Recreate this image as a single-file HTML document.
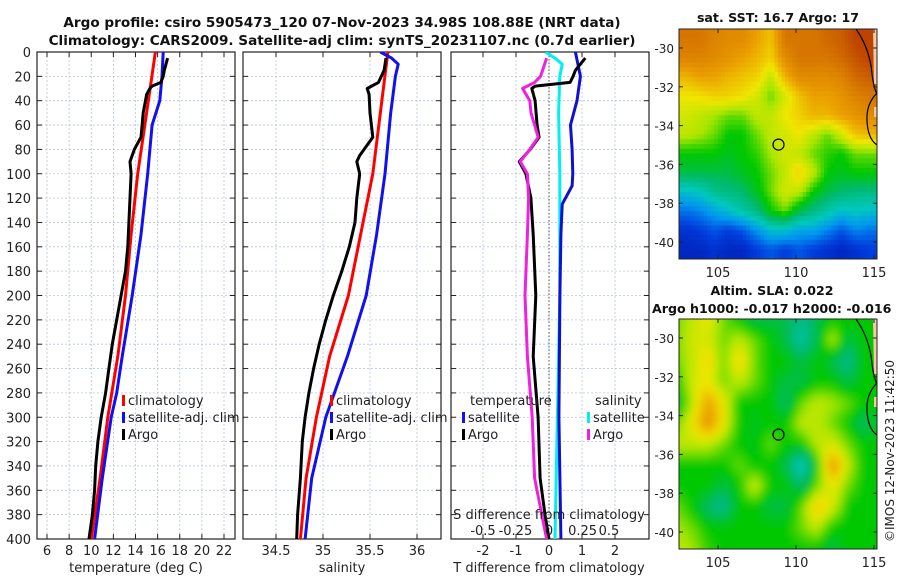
<!DOCTYPE html>
<html><head><meta charset="utf-8"><style>
body{margin:0;background:#fff;}
svg{display:block;font-family:"DejaVu Sans","Liberation Sans",sans-serif;}
</style></head><body>
<svg id="fig" width="900" height="580" xmlns="http://www.w3.org/2000/svg">
<defs>
<clipPath id="c1"><rect x="37" y="52" width="198" height="487"/></clipPath>
<clipPath id="c2"><rect x="243" y="52" width="198" height="487"/></clipPath>
<clipPath id="c3"><rect x="451" y="52" width="198" height="487"/></clipPath>
<clipPath id="cm1"><rect x="679" y="29" width="198" height="230"/></clipPath>
<clipPath id="cm2"><rect x="679" y="319" width="198" height="230"/></clipPath>
<filter id="blur" x="-5%" y="-5%" width="110%" height="110%"><feGaussianBlur stdDeviation="4"/></filter>
</defs>
<g font-size="13.6" font-weight="bold" text-anchor="middle" fill="#111">
<text x="342" y="27">Argo profile: csiro 5905473_120 07-Nov-2023 34.98S 108.88E (NRT data)</text>
<text x="342" y="45">Climatology: CARS2009. Satellite-adj clim: synTS_20231107.nc (0.7d earlier)</text>
</g>
<g font-size="12.6" font-weight="bold" text-anchor="middle" fill="#111">
<text x="778" y="22">sat. SST: 16.7 Argo: 17</text>
<text x="772" y="295">Altim. SLA: 0.022</text>
<text x="652" y="313" text-anchor="start">Argo h1000: -0.017 h2000: -0.016</text>
</g>
<text transform="translate(894,542) rotate(-90)" font-size="12" fill="#222">©IMOS 12-Nov-2023 11:42:50</text>
<g id="plots"></g>
</svg>
<script>
// ---- data ----
const depthArgoT=[5,15,20,25,28,30,35,50,70,80,90,100,120,140,160,180,200,220,240,260,280,300,320,340,360,380,400];
const tempArgo=[16.9,16.6,16.5,16.3,15.5,15.3,15.0,14.7,14.5,13.9,13.5,13.6,13.5,13.4,13.3,13.1,12.7,12.3,11.9,11.6,11.3,10.9,10.6,10.4,10.3,10.1,9.8];
const depthClim=[0,50,100,150,200,250,300,350,400];
const tempClim=[15.8,15.0,14.2,13.6,13.1,12.4,11.5,10.8,10.0];
const depthSatT=[0,20,40,60,100,150,200,250,280,300,350,400];
const tempSat=[16.5,16.4,16.2,15.5,15.1,14.5,13.7,12.8,12.3,11.8,11.0,10.3];
const depthArgoS=[5,15,25,30,35,50,70,85,90,100,120,140,160,180,200,220,240,260,280,300,320,350,380,400];
const salArgo=[35.67,35.65,35.59,35.47,35.49,35.5,35.53,35.39,35.36,35.39,35.36,35.34,35.28,35.2,35.11,35.03,34.96,34.9,34.85,34.81,34.78,34.76,34.73,34.72];
const salClimDepth=[0,100,150,200,250,300,350,400];
const salClim=[35.69,35.53,35.4,35.27,35.07,34.93,34.82,34.76];
const salSatDepth=[0,5,10,20,50,100,150,200,250,300,350,400];
const salSat=[35.61,35.73,35.8,35.77,35.72,35.66,35.57,35.46,35.26,35.03,34.88,34.81];
const dTArgoDepth=[5,15,20,25,28,30,40,60,70,80,90,100,120,150,200,250,300,350,380,400];
const dTArgo=[1.1,0.8,0.73,0.64,-0.42,-0.52,-0.42,-0.36,-0.3,-0.57,-0.9,-0.7,-0.55,-0.48,-0.4,-0.48,-0.33,-0.27,-0.12,0];
const dTSatDepth=[0,20,40,60,80,100,110,125,150,200,300,400];
const dTSat=[0.8,0.95,0.85,0.65,0.7,0.72,0.7,0.4,0.36,0.33,0.3,0.36];
const dSSatDepth=[0,5,10,20,50,100,200,300,400];
const dSSat=[-0.03,0.05,0.11,0.09,0.08,0.09,0.09,0.07,0.05];
const dSArgoDepth=[5,20,25,30,40,50,60,70,80,90,100,120,150,200,250,300,350,400];
const dSArgo=[-0.02,-0.07,-0.12,-0.22,-0.16,-0.15,-0.12,-0.09,-0.16,-0.24,-0.18,-0.17,-0.18,-0.2,-0.18,-0.14,-0.12,-0.02];
const depthTicks=[0,20,40,60,80,100,120,140,160,180,200,220,240,260,280,300,320,340,360,380,400];
const tTicks=[6,8,10,12,14,16,18,20,22];
const sTicks=[34.5,35,35.5,36];
const dTTicks=[-2,-1,0,1,2];
const dSTicks=[-0.5,-0.25,0,0.25,0.5];
const latTicks=[-30,-32,-34,-36,-38,-40];
const lonTicks=[105,110,115];
const argoLon=108.88, argoLat=-34.98;
const sstGrid=[
[.85,.85,.82,.8,.8,.75,.7,.85,.85,.85,.88,.9,.95,.95],
[.82,.82,.8,.78,.75,.72,.68,.8,.85,.85,.85,.88,.92,.95],
[.72,.75,.75,.72,.7,.68,.6,.72,.8,.8,.8,.82,.88,.9],
[.65,.66,.68,.68,.66,.62,.55,.62,.7,.75,.75,.78,.82,.85],
[.62,.6,.58,.55,.55,.6,.6,.65,.68,.72,.72,.75,.78,.8],
[.6,.58,.55,.5,.5,.55,.6,.62,.65,.6,.55,.62,.7,.72],
[.5,.5,.5,.48,.5,.52,.58,.62,.6,.55,.52,.5,.55,.55],
[.45,.45,.45,.45,.48,.5,.55,.6,.68,.6,.5,.48,.5,.5],
[.3,.32,.38,.4,.42,.48,.55,.62,.6,.5,.45,.42,.4,.4],
[.18,.2,.25,.3,.35,.4,.5,.55,.45,.4,.35,.3,.32,.3],
[.1,.12,.15,.12,.15,.22,.3,.3,.25,.25,.2,.15,.2,.18],
[.08,.08,.1,.08,.08,.12,.15,.12,.15,.12,.1,.08,.1,.12]];
const slaGrid=[
[.55,.6,.65,.55,.5,.45,.45,.45,.38,.45,.5,.5,.5,.5],
[.55,.62,.62,.55,.6,.55,.5,.45,.35,.45,.6,.45,.5,.5],
[.55,.6,.68,.55,.68,.55,.5,.5,.45,.5,.45,.38,.5,.5],
[.5,.62,.65,.55,.6,.55,.5,.45,.45,.5,.5,.45,.5,.5],
[.45,.6,.75,.65,.5,.5,.5,.42,.55,.6,.58,.55,.5,.5],
[.55,.65,.78,.65,.5,.48,.5,.5,.6,.6,.55,.5,.42,.5],
[.6,.6,.6,.55,.5,.48,.55,.5,.5,.6,.62,.55,.5,.5],
[.5,.5,.5,.5,.55,.5,.5,.45,.3,.5,.78,.6,.5,.5],
[.5,.5,.5,.45,.5,.62,.5,.5,.42,.55,.65,.55,.5,.5],
[.55,.5,.42,.38,.5,.5,.45,.45,.55,.7,.62,.5,.5,.5],
[.58,.55,.5,.5,.5,.5,.5,.5,.55,.6,.5,.5,.5,.5],
[.6,.58,.52,.5,.5,.5,.5,.5,.5,.5,.45,.5,.5,.5]];

const NS="http://www.w3.org/2000/svg";
const root=document.getElementById('plots');
function mk(tag,attrs,parent){const e=document.createElementNS(NS,tag);for(const k in attrs)e.setAttribute(k,attrs[k]);(parent||root).appendChild(e);return e;}
const Y0=52,Y1=539;
const yD=d=>Y0+(d/400)*(Y1-Y0);
function lin(d0,d1,r0,r1){return v=>r0+(v-d0)/(d1-d0)*(r1-r0);}
const xT=lin(6,22,47,224);
const xS=lin(34.5,36,276,417);
const xDT=lin(0,2,549,615);
const xDS=lin(0,0.5,549,609);

function panel(x0,xs,ticks,clip,name){
  const g=mk('g',{});
  
  
  for(const t of ticks){const x=xs(t);const l=mk('line',{x1:x,x2:x,y1:Y0,y2:Y1,stroke:'#b8c4e0','stroke-width':0.8,'stroke-dasharray':'2,2'},g);
    }
  for(const d of depthTicks){const y=yD(d);const l=mk('line',{x1:x0,x2:x0+198,y1:y,y2:y,stroke:'#b8c4e0','stroke-width':0.8,'stroke-dasharray':'2,2'},g);
    
    mk('line',{x1:x0,x2:x0+5,y1:y,y2:y,stroke:'#222'},g);mk('line',{x1:x0+193,x2:x0+198,y1:y,y2:y,stroke:'#222'},g);}
  for(const t of ticks){const x=xs(t);mk('line',{x1:x,x2:x,y1:Y1,y2:Y1-5,stroke:'#222'},g);mk('line',{x1:x,x2:x,y1:Y0,y2:Y0+5,stroke:'#222'},g);}
  const f=mk('rect',{x:x0,y:Y0,width:198,height:Y1-Y0,fill:'none',stroke:'#222','stroke-width':1.2},g);
  
  return g;
}
function series(xs,depths,vals,color,clip,name,w){
  const pts=depths.map((d,i)=>xs(vals[i]).toFixed(1)+','+yD(d).toFixed(1)).join(' ');
  const p=mk('polyline',{points:pts,fill:'none',stroke:color,'stroke-width':w||3,'stroke-linejoin':'round','clip-path':'url(#'+clip+')'});
  
  
}
function txt(x,y,s,opts,name){const t=mk('text',Object.assign({x:x,y:y,'font-size':13,fill:'#222'},opts||{}));t.textContent=s;
  return t;}

panel(37,xT,tTicks,'c1','temperature-panel');
for(const d of depthTicks) txt(31,yD(d)+5,String(d),{'text-anchor':'end'},'y-tick-label');
for(const t of tTicks) txt(xT(t),555,String(t),{'text-anchor':'middle'},'x-tick-label');
txt(136,572,'temperature (deg C)',{'text-anchor':'middle'},'temperature-axis-title');
series(xT,depthClim,tempClim,'#f00','c1','temp-climatology-line');
series(xT,depthSatT,tempSat,'#1010f0','c1','temp-satellite-line');
series(xT,depthArgoT,tempArgo,'#000','c1','temp-argo-line');

panel(243,xS,sTicks,'c2','salinity-panel');
for(const t of sTicks) txt(xS(t),555,String(t),{'text-anchor':'middle'},'x-tick-label');
txt(342,572,'salinity',{'text-anchor':'middle'},'salinity-axis-title');
series(xS,salClimDepth,salClim,'#f00','c2','sal-climatology-line');
series(xS,salSatDepth,salSat,'#1010f0','c2','sal-satellite-line');
series(xS,depthArgoS,salArgo,'#000','c2','sal-argo-line');

panel(451,xDT,dTTicks,'c3','difference-panel');
mk('line',{x1:xDT(0),x2:xDT(0),y1:Y0,y2:Y1,stroke:'#555','stroke-dasharray':'1.5,2'});
for(const t of dTTicks) txt(xDT(t),555,String(t),{'text-anchor':'middle'},'t-diff-tick-label');
txt(549,572,'T difference from climatology',{'text-anchor':'middle'},'t-diff-axis-title');
series(xDS,dSSatDepth,dSSat,'#00f0f0','c3','sal-sat-diff-line');
series(xDT,dTSatDepth,dTSat,'#1010d0','c3','temp-sat-diff-line');
series(xDT,dTArgoDepth,dTArgo,'#000','c3','temp-argo-diff-line');
series(xDS,dSArgoDepth,dSArgo,'#f020e0','c3','sal-argo-diff-line');
txt(549,519,'S difference from climatology',{'text-anchor':'middle'},'s-diff-axis-title');
const sLabelX=[-0.55,-0.28,0,0.28,0.5];
dSTicks.forEach((t,i)=>txt(xDS(sLabelX[i]),535,String(t),{'text-anchor':'middle'},'s-diff-tick-label'));

function legItem(x,y,color,label){const r=mk('rect',{x:x,y:y-10,width:3,height:11,fill:color});
  
  txt(x+6,y,label,{},'legend-entry');}
legItem(122,405,'#f00','climatology');legItem(122,422,'#1010f0','satellite-adj. clim');legItem(122,439,'#000','Argo');
legItem(330,405,'#f00','climatology');legItem(330,422,'#1010f0','satellite-adj. clim');legItem(330,439,'#000','Argo');
txt(470,405,'temperature',{},'legend-title-temperature');
txt(595,405,'salinity',{},'legend-title-salinity');
legItem(462,422,'#1010f0','satellite');legItem(462,439,'#000','Argo');
legItem(587,422,'#00f0f0','satellite');legItem(587,439,'#f020e0','Argo');

const stops=[[0,[0,0,140]],[.12,[0,60,220]],[.22,[0,150,240]],[.32,[0,200,190]],[.42,[0,185,110]],[.5,[0,200,0]],[.58,[170,230,0]],[.65,[240,230,0]],[.75,[235,160,0]],[.87,[210,110,0]],[1,[175,40,0]]];
function cmap(v){v=Math.max(0,Math.min(1,v));for(let i=1;i<stops.length;i++){if(v<=stops[i][0]){const a=stops[i-1],b=stops[i];const f=(v-a[0])/(b[0]-a[0]);
  const c=a[1].map((q,k)=>Math.round(q+(b[1][k]-q)*f));return 'rgb('+c.join(',')+')';}}return 'rgb(175,40,0)';}
function sample(grid,fr,fc){const R=grid.length,C=grid[0].length;
  const r=Math.max(0,Math.min(R-1,fr-0.5)),c=Math.max(0,Math.min(C-1,fc-0.5));
  const r0=Math.floor(r),c0=Math.floor(c),r1=Math.min(R-1,r0+1),c1=Math.min(C-1,c0+1),a=r-r0,b=c-c0;
  return grid[r0][c0]*(1-a)*(1-b)+grid[r0][c1]*(1-a)*b+grid[r1][c0]*a*(1-b)+grid[r1][c1]*a*b;}
const lonX=lin(105,115,718,874);
function mapPanel(y0,grid,clip,name,latY,blur){
  const g=mk('g',{'clip-path':'url(#'+clip+')'});
  
  const inner=mk('g',blur?{filter:'url(#blur)'}:{},g);
  const rows=grid.length,cols=grid[0].length,up=4;
  const pad=blur?10:0;
  const cw=(198+2*pad)/(cols*up),ch=(230+2*pad)/(rows*up);
  for(let r=0;r<rows*up;r++)for(let c=0;c<cols*up;c++){
    const v=sample(grid,(r+0.5)/up,(c+0.5)/up);
    const cell=mk('rect',{x:(679-pad+c*cw).toFixed(2),y:(y0-pad+r*ch).toFixed(2),width:(cw+0.5).toFixed(2),height:(ch+0.5).toFixed(2),fill:cmap(v)},inner);
    }
  mk('path',{d:`M873 ${y0} L877 ${y0} L877 ${y0+55} L874 ${y0+55} Z`,fill:'#f8c8a0'},g);
  mk('path',{d:`M874 ${y0+78} L877 ${y0+78} L877 ${y0+88} L874 ${y0+88} Z`,fill:'#f8c8a0'},g);
  const c1=mk('path',{d:`M856 ${y0} Q870 ${y0+20} 872 ${y0+45} Q874 ${y0+60} 877 ${y0+65}`,fill:'none',stroke:'#000','stroke-width':1.2},g);
  
  const c2=mk('path',{d:`M877 ${y0+64} Q866 ${y0+75} 867 ${y0+92} Q868 ${y0+110} 877 ${y0+116}`,fill:'none',stroke:'#000','stroke-width':1.2},g);
  
  const ax=mk('rect',{x:679,y:y0,width:198,height:230,fill:'none',stroke:'#222','stroke-width':1});
  
  const ci=mk('circle',{cx:lonX(argoLon),cy:latY(argoLat),r:5.5,fill:'none',stroke:'#000','stroke-width':1.2});
  
  for(const la of latTicks){const y=latY(la);mk('line',{x1:679,x2:683,y1:y,y2:y,stroke:'#222'});mk('line',{x1:873,x2:877,y1:y,y2:y,stroke:'#222'});
    txt(674,y+5,String(la),{'text-anchor':'end','font-size':12},'lat-tick-label');}
  for(const lo of lonTicks){const x=lonX(lo);mk('line',{x1:x,x2:x,y1:y0+230,y2:y0+226,stroke:'#222'});mk('line',{x1:x,x2:x,y1:y0,y2:y0+4,stroke:'#222'});
    txt(x,y0+248,String(lo),{'text-anchor':'middle','font-size':13},'lon-tick-label');}
}
mapPanel(29,sstGrid,'cm1','sst-map',lin(-30,-40,48,242),false);
mapPanel(319,slaGrid,'cm2','sla-map',lin(-30,-40,338,532),true);
</script>
</body></html>
